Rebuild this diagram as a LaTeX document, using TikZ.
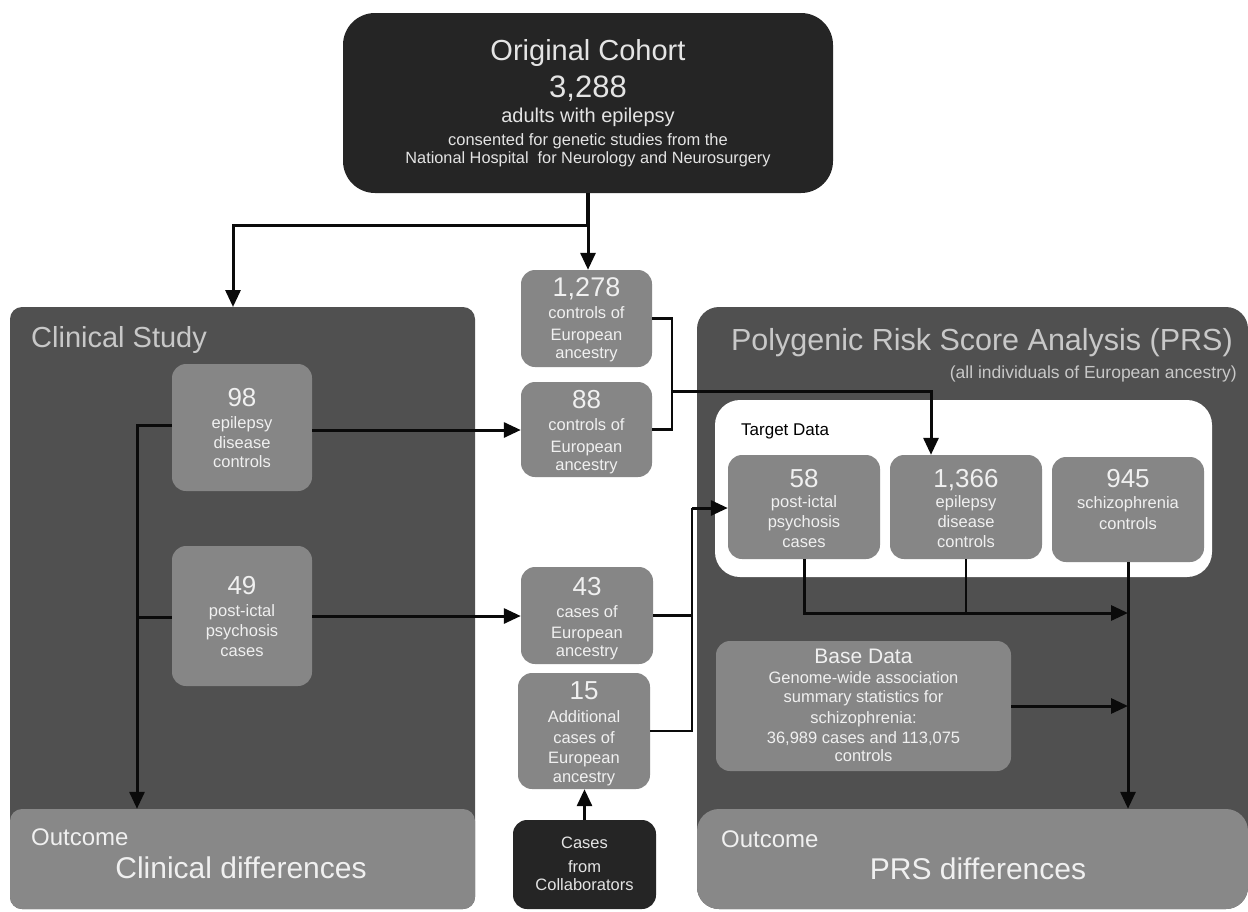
\documentclass[tikz,border=0pt]{standalone}
\usepackage{fontspec}
\setmainfont{Liberation Sans}
\usetikzlibrary{arrows.meta}
\definecolor{topdark}{HTML}{252525}
\definecolor{panelc}{HTML}{505050}
\definecolor{boxg}{HTML}{868686}
\definecolor{outg}{HTML}{888888}
\definecolor{lighttext}{HTML}{F0F0F0}
\definecolor{titletext}{HTML}{C8C8C8}
\definecolor{toptext}{HTML}{E4E4E4}
\definecolor{linec}{HTML}{0A0A0A}
\newcommand{\fsz}[1]{\fontsize{#1}{#1}\selectfont}
\tikzset{
  gbox/.style={fill=boxg, rounded corners=14pt, inner sep=0pt},
  dbox/.style={fill=topdark, rounded corners=14pt, inner sep=0pt},
  panelbox/.style={fill=panelc, rounded corners=14pt, inner sep=0pt},
  outbox/.style={fill=outg, rounded corners=14pt, inner sep=0pt},
  txt/.style={anchor=base, inner sep=0pt, text=lighttext},
  numt/.style={txt, font=\fsz{26}},
  smt/.style={txt, font=\fsz{16.5}},
  ttl/.style={anchor=base west, inner sep=0pt, text=titletext},
  arr/.style={line width=3pt, draw=linec, -{Triangle[length=17pt,width=15pt]}},
  ln/.style={line width=2.4pt, draw=linec},
}
\begin{document}
\begin{tikzpicture}[x=1pt,y=-1pt]
\useasboundingbox (0,0) rectangle (1248,911);
\fill[white] (0,0) rectangle (1248,911);

% ---------- top box
\node[dbox, rounded corners=32pt, minimum width=490pt, minimum height=180pt] (top) at (588,103) {};
\node[txt, text=toptext, font=\fsz{29}] (ta) at (588,60) {Original Cohort};
\node[txt, text=toptext, font=\fsz{31}] (tb) at (588,97) {3,288};
\node[txt, text=toptext, font=\fsz{20}] (tc) at (588,122) {adults with epilepsy};
\node[txt, text=toptext, font=\fsz{16.5}] (td) at (588,145) {consented for genetic studies from the};
\node[txt, text=toptext, font=\fsz{16.3}] (te) at (588,163) {National Hospital\ \ for Neurology and Neurosurgery};

% ---------- clinical panel
\node[panelbox, rounded corners=12pt, minimum width=465pt, minimum height=602pt] (clin) at (242.5,608) {};
\node[ttl, font=\fsz{29}] (clint) at (31,347) {Clinical Study};
\node[outbox, rounded corners=12pt, minimum width=465pt, minimum height=100pt] (clinout) at (242.5,859) {};
\node[ttl, text=lighttext, font=\fsz{24}] (clinoa) at (31,845) {Outcome};
\node[txt, font=\fsz{30}] (clinob) at (241,878) {Clinical differences};

\node[gbox, minimum width=140pt, minimum height=127pt] (b98) at (242,427.5) {};
\node[numt] (b98a) at (242,406) {98};
\node[smt] (b98b) at (242,428) {epilepsy};
\node[smt] (b98c) at (242,448) {disease};
\node[smt] (b98d) at (242,467) {controls};

\node[gbox, minimum width=140pt, minimum height=140pt] (b49) at (242,616) {};
\node[numt] (b49a) at (242,594) {49};
\node[smt] (b49b) at (242,616) {post-ictal};
\node[smt] (b49c) at (242,636) {psychosis};
\node[smt] (b49d) at (242,656) {cases};

% ---------- middle column
\node[gbox, minimum width=131pt, minimum height=97pt] (b1278) at (586.5,318.5) {};
\node[numt, font=\fsz{27}] (b1278a) at (586.5,296) {1,278};
\node[smt] (b1278b) at (586.5,318) {controls of};
\node[smt] (b1278c) at (586.5,340) {European};
\node[smt] (b1278d) at (586.5,358) {ancestry};

\node[gbox, minimum width=131pt, minimum height=95pt] (b88) at (586.5,429.5) {};
\node[numt] (b88a) at (586.5,408) {88};
\node[smt] (b88b) at (586.5,430) {controls of};
\node[smt] (b88c) at (586.5,452) {European};
\node[smt] (b88d) at (586.5,470) {ancestry};

\node[gbox, minimum width=132pt, minimum height=97pt] (b43) at (587,615.5) {};
\node[numt] (b43a) at (587,595) {43};
\node[smt] (b43b) at (587,617) {cases of};
\node[smt] (b43c) at (587,638) {European};
\node[smt] (b43d) at (587,656) {ancestry};

\node[gbox, minimum width=132pt, minimum height=116pt] (b15) at (584,731) {};
\node[numt] (b15a) at (584,699) {15};
\node[smt] (b15b) at (584,722) {Additional};
\node[smt] (b15c) at (584,743) {cases of};
\node[smt] (b15d) at (584,763) {European};
\node[smt] (b15e) at (584,782) {ancestry};

\node[dbox, minimum width=143pt, minimum height=89pt] (cases) at (584.5,864.5) {};
\node[smt, text=toptext] (casesa) at (584.5,848) {Cases};
\node[smt, text=toptext] (casesb) at (584.5,872) {from};
\node[smt, text=toptext] (casesc) at (584.5,890) {Collaborators};

% ---------- PRS panel
\node[panelbox, rounded corners=22pt, minimum width=551pt, minimum height=602pt] (prs) at (972.5,608) {};
\node[anchor=base east, inner sep=0pt, text=titletext, font=\fsz{30.5}] (prst) at (1233,350) {Polygenic Risk Score Analysis (PRS)};
\node[anchor=base east, inner sep=0pt, text=titletext, font=\fsz{17.5}] (prss) at (1237,378) {(all individuals of European ancestry)};
\node[fill=white, rounded corners=25pt, inner sep=0pt, minimum width=497pt, minimum height=177pt] (target) at (963.5,488.5) {};
\node[anchor=base west, inner sep=0pt, font=\fsz{17}] (targett) at (741,435) {Target Data};

\node[gbox, minimum width=152pt, minimum height=104pt] (b58) at (804,507) {};
\node[numt] (b58a) at (804,487) {58};
\node[smt] (b58b) at (804,507) {post-ictal};
\node[smt] (b58c) at (804,527) {psychosis};
\node[smt] (b58d) at (804,547) {cases};

\node[gbox, minimum width=152pt, minimum height=104pt] (b1366) at (966,507) {};
\node[numt] (b1366a) at (966,487) {1,366};
\node[smt] (b1366b) at (966,507) {epilepsy};
\node[smt] (b1366c) at (966,527) {disease};
\node[smt] (b1366d) at (966,547) {controls};

\node[gbox, minimum width=152pt, minimum height=105pt] (b945) at (1128,509.5) {};
\node[numt] (b945a) at (1128,487) {945};
\node[smt] (b945b) at (1128,508) {schizophrenia};
\node[smt] (b945c) at (1128,529) {controls};

\node[gbox, minimum width=295pt, minimum height=130pt] (base) at (863.5,706) {};
\node[txt, font=\fsz{21}] (basea) at (863.5,663) {Base Data};
\node[smt] (baseb) at (863.5,683) {Genome-wide association};
\node[smt] (basec) at (863.5,702) {summary statistics for};
\node[smt] (based) at (863.5,723) {schizophrenia:};
\node[smt] (basee) at (863.5,743) {36,989 cases and 113,075};
\node[smt] (basef) at (863.5,761) {controls};

\node[outbox, rounded corners=22pt, minimum width=551pt, minimum height=100pt] (prsout) at (972.5,859) {};
\node[ttl, text=lighttext, font=\fsz{24}] (prsoa) at (721,847) {Outcome};
\node[txt, font=\fsz{30}] (prsob) at (978,879) {PRS differences};

% ---------- connectors
\coordinate (split) at (588,225);
\coordinate (clintop) at (233,307);
\draw[line width=3.2pt, draw=linec] (top.south -| split) -- (split);
\draw[arr] (split) -- (split |- b1278.north);
\draw[arr] (split) -| (clintop);

\draw[arr] (b98.east |- 0,430) -- (b88.west |- 0,430);
\draw[arr] (b49.east) -- (b49.east -| b43.west);

\coordinate (lv) at (137,425);
\draw[arr] (b98.west |- lv) -- (lv) -- (lv |- clinout.north);
\draw[ln, line width=3pt] (b49.west |- 0,617) -- (lv |- 0,617);

\coordinate (brk1) at (672,391);
\draw[ln] (b1278.east) -| (brk1) |- (b88.east);
\coordinate (in1366) at (931,0);
\draw[arr] (brk1) -| (in1366 |- b1366.north);

\coordinate (brk2) at (692,508);
\draw[ln] (b15.east) -| (brk2);
\draw[ln] (b43.east) -- (b43.east -| brk2);
\draw[arr] (brk2) -- (brk2 -| b58.west);

\draw[arr] (cases.north) -- (cases.north |- b15.south);

\coordinate (mj) at (1128,613);
\draw[arr] (b58.south) |- (mj);
\draw[ln] (b1366.south) -- (b1366.south |- mj);
\draw[arr] (b945.south) -- (b945.south |- prsout.north);
\draw[arr] (base.east) -- (base.east -| b945.south);
\end{tikzpicture}
\end{document}
